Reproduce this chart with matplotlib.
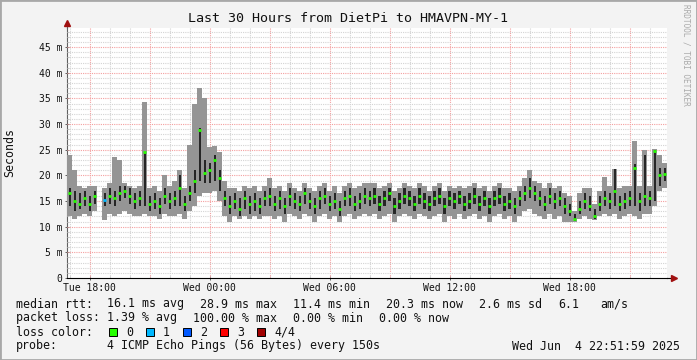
import numpy as np
import matplotlib
matplotlib.use("Agg")
import matplotlib.pyplot as plt
from matplotlib.patches import Rectangle

# ---- data (ms), one value per 15-minute bin, 120 bins over 30 hours ----
nan = np.nan
med = [16.5, 15.0, 14.5, 15.5, 14.5, 16.0, nan, 15.3, 16.0, 15.5, 16.5, 17.0, 16.0, 15.0, 15.5, 24.5, 14.5, 15.0, 14.0, 16.0,
       15.0, 15.5, 17.5, 14.5, 16.5, 19.0, 28.9, 20.5, 21.0, 23.0, 19.5, 15.5, 14.0, 15.0, 13.5, 15.5, 14.5, 15.0, 14.0, 15.5,
       16.0, 14.5, 15.5, 14.0, 16.0, 15.0, 14.5, 16.5, 15.0, 14.0, 15.5, 16.0, 14.5, 15.0, 13.5, 15.5, 16.0, 14.5, 15.0, 16.0,
       15.5, 16.0, 14.5, 15.5, 16.5, 14.0, 15.0, 16.0, 15.5, 14.5, 16.0, 15.0, 14.5, 15.5, 16.0, 14.0, 15.5, 15.0, 16.0, 14.5,
       15.0, 16.0, 14.5, 15.5, 14.0, 15.5, 16.0, 14.5, 15.0, 14.0, 15.5, 16.5, 17.5, 16.5, 15.5, 14.5, 16.0, 15.0, 15.5, 14.0,
       13.0, 11.5, 13.5, 15.0, 14.0, 12.0, 14.5, 15.5, 15.0, 17.0, 14.5, 15.0, 15.5, 21.5, 15.0, 16.0, 15.5, 24.8, 20.0, 20.3]
lo = [12.0, 11.5, 12.0, 12.5, 12.0, 13.0, nan, 11.3, 12.5, 12.0, 12.5, 13.0, 12.5, 12.0, 12.0, 12.5, 12.0, 12.0, 11.5, 12.5,
      12.0, 12.0, 12.5, 11.5, 13.0, 14.0, 16.0, 16.5, 16.5, 17.0, 15.0, 12.0, 11.0, 12.0, 11.5, 12.0, 11.5, 12.0, 11.5, 12.0,
      12.0, 11.5, 12.0, 11.0, 12.5, 12.0, 11.5, 12.5, 12.0, 11.0, 12.0, 12.5, 11.5, 12.0, 11.0, 12.0, 12.5, 11.5, 12.0, 12.5,
      12.0, 12.5, 11.5, 12.0, 12.5, 11.0, 12.0, 12.5, 12.0, 11.5, 12.5, 12.0, 11.5, 12.0, 12.5, 11.0, 12.0, 11.5, 12.5, 11.5,
      12.0, 12.5, 11.5, 12.0, 11.0, 12.0, 12.5, 11.5, 12.0, 11.0, 12.0, 13.0, 13.5, 12.5, 12.0, 11.5, 12.5, 11.5, 12.0, 11.0,
      11.0, 11.0, 11.5, 12.0, 11.5, 11.3, 12.0, 12.5, 12.0, 12.5, 11.5, 12.0, 12.5, 12.0, 11.5, 12.5, 12.5, 14.0, 17.0, 17.5]
hi = [24.0, 21.0, 18.0, 17.5, 18.0, 18.0, nan, 17.5, 18.5, 23.5, 23.0, 18.5, 18.0, 17.5, 18.0, 34.4, 17.5, 18.0, 17.0, 20.0,
      18.0, 19.0, 21.0, 17.5, 26.0, 34.0, 37.0, 35.0, 25.5, 25.8, 24.5, 19.0, 17.5, 17.5, 17.0, 18.0, 17.5, 18.0, 17.0, 18.0,
      19.5, 17.5, 18.0, 17.0, 18.5, 17.5, 17.0, 18.5, 17.5, 17.0, 18.0, 18.5, 17.0, 18.0, 16.5, 18.0, 18.5, 17.5, 18.0, 18.5,
      18.5, 18.5, 17.5, 18.0, 18.5, 17.0, 17.5, 18.5, 18.0, 17.5, 18.5, 18.0, 17.0, 18.0, 18.5, 17.0, 18.0, 17.5, 18.0, 17.5,
      18.0, 18.5, 17.5, 18.0, 17.0, 18.0, 18.5, 17.5, 17.5, 17.0, 18.0, 19.5, 21.0, 19.0, 18.5, 17.5, 18.5, 17.5, 18.0, 16.5,
      16.0, 13.0, 16.5, 17.5, 17.5, 14.5, 17.0, 19.7, 18.0, 21.2, 17.5, 18.0, 18.0, 26.8, 18.0, 25.0, 18.0, 25.2, 24.0, 22.5]
dlo = [14.0, 13.0, 13.5, 14.0, 13.0, 14.5, nan, 14.0, 14.5, 14.0, 15.0, 15.5, 14.5, 13.5, 14.0, 14.0, 13.0, 13.5, 12.5, 14.5,
       13.5, 14.0, 14.0, 13.0, 15.0, 16.5, 19.0, 18.5, 18.5, 19.0, 17.0, 14.0, 12.5, 13.5, 12.0, 13.5, 12.5, 13.0, 12.5, 14.0,
       14.0, 13.0, 13.5, 12.5, 14.0, 13.5, 13.0, 14.5, 13.5, 12.5, 13.5, 14.5, 13.0, 13.5, 12.0, 14.0, 14.0, 13.0, 13.5, 14.5,
       14.0, 14.5, 13.0, 14.0, 15.0, 12.5, 13.5, 14.5, 14.0, 13.0, 14.5, 13.5, 13.0, 14.0, 14.5, 12.5, 14.0, 13.5, 14.5, 13.0,
       13.5, 14.5, 13.0, 14.0, 12.5, 14.0, 14.5, 13.0, 13.5, 12.5, 14.0, 15.0, 15.5, 15.0, 14.0, 13.0, 14.5, 13.5, 14.0, 12.5,
       12.0, 11.2, 12.5, 13.5, 13.0, 11.5, 13.0, 14.0, 13.5, 14.0, 13.0, 13.5, 14.0, 14.0, 13.0, 14.0, 14.0, 15.0, 18.0, 19.0]
dhi = [17.5, 17.0, 16.5, 17.0, 16.0, 17.0, nan, 16.5, 17.5, 17.0, 18.0, 18.0, 17.5, 16.5, 17.0, 24.6, 16.0, 16.5, 15.5, 17.5,
       16.5, 17.0, 20.0, 16.0, 18.0, 21.0, 29.3, 23.0, 22.5, 24.0, 21.0, 17.0, 16.0, 16.5, 15.5, 17.0, 16.0, 16.5, 15.5, 17.0,
       17.5, 16.0, 17.0, 15.5, 17.5, 16.5, 16.0, 17.5, 16.5, 15.5, 17.0, 17.5, 16.0, 16.5, 15.0, 17.0, 17.5, 16.0, 16.5, 17.5,
       17.0, 17.5, 16.0, 17.0, 17.5, 15.5, 16.5, 17.5, 17.0, 16.0, 17.5, 16.5, 16.0, 17.0, 17.5, 15.5, 17.0, 16.5, 17.0, 16.0,
       16.5, 17.5, 16.0, 17.0, 15.5, 17.0, 17.5, 16.0, 16.5, 15.5, 17.0, 18.0, 19.5, 18.0, 17.0, 16.0, 17.5, 16.5, 17.0, 15.5,
       14.5, 12.5, 15.0, 16.5, 16.0, 13.5, 16.0, 17.0, 16.5, 21.2, 16.0, 16.5, 17.0, 22.3, 16.5, 24.0, 17.0, 25.0, 21.5, 21.5]

# bins with packet loss (index -> lost pings)
loss_idx = [7]
loss_lvl = [1]

# time axis: hours since Tue 00:00
t_start = 16 + 52 / 60
t_end = t_start + 30
bin_h = 0.25

major_hours = [18, 24, 30, 36, 42]
major_labels = ["Tue 18:00", "Wed 00:00", "Wed 06:00", "Wed 12:00", "Wed 18:00"]
y_ticks = [0, 5, 10, 15, 20, 25, 30, 35, 40, 45]
y_labels = ["0"] + [f"{v} m" for v in y_ticks[1:]]

loss_colors = ["#26ff00", "#00b8ff", "#0059ff", "#ff0000", "#a00000"]
loss_names = ["0", "1", "2", "3", "4/4"]

legend_rows = [
    ["median rtt:", "16.1 ms avg", "28.9 ms max", "11.4 ms min", "20.3 ms now", "2.6 ms sd", "6.1", "am/s"],
    ["packet loss:", "1.39 % avg", "100.00 % max", "0.00 % min", "0.00 % now"],
]
probe_text = "4 ICMP Echo Pings (56 Bytes) every 150s"
stamp_text = "Wed Jun  4 22:51:59 2025"

# ---- figure ----
W, H = 697, 360
BG = "#f3f3f3"
MONO = "DejaVu Sans Mono"

fig = plt.figure(figsize=(W / 100, H / 100), dpi=100, facecolor=BG)


def fx(x):
    return x / W


def fy(y):
    return 1 - y / H


ax = fig.add_axes([fx(67), fy(278), 600 / W, 250 / H])
ax.set_facecolor("white")
ax.set_xlim(t_start, t_end)
ax.set_ylim(0, 250 / 5.13)

# grid (drawn manually like rrdtool: dotted, red major / gray minor)
dot = (0, (1, 1))
for h in range(int(np.ceil(t_start)), int(t_end) + 1):
    col = "#f4a0a0" if h % 3 == 0 else "#d4d4d4"
    ax.axvline(h, color=col, lw=0.8, ls=dot, zorder=3)
for v in range(1, 49):
    col = "#f4a0a0" if v % 5 == 0 else "#d4d4d4"
    ax.axhline(v, color=col, lw=0.8, ls=dot, zorder=3)

# smoke
x = t_start + bin_h * (np.arange(len(med)) + 0.5)
lo_a, hi_a = np.array(lo), np.array(hi)
dlo_a, dhi_a = np.array(dlo), np.array(dhi)
med_a = np.array(med)
ax.bar(x, hi_a - lo_a, bottom=lo_a, width=bin_h, color="#959595", lw=0, zorder=4)
ax.bar(x, dhi_a - dlo_a, bottom=dlo_a, width=bin_h * 0.4, color="#262626", lw=0, zorder=5)

# median markers coloured by loss
mcol = [loss_colors[0]] * len(med)
for i, l in zip(loss_idx, loss_lvl):
    mcol[i] = loss_colors[l]
ax.hlines(med_a, x - bin_h * 0.28, x + bin_h * 0.28, colors=mcol, lw=2.0, zorder=6)

# axes / ticks
for s in ["top", "right"]:
    ax.spines[s].set_visible(False)
ax.spines["bottom"].set_color("black")
ax.spines["left"].set_color("#606060")
ax.set_xticks(major_hours)
ax.set_xticklabels(major_labels, fontsize=7, family=MONO, color="#111111")
ax.set_xticks(range(int(np.ceil(t_start)), int(t_end) + 1), minor=True)
ax.set_yticks(y_ticks)
ax.set_yticklabels(y_labels, fontsize=7, family=MONO, color="#111111")
ax.set_yticks(range(0, 49), minor=True)
ax.tick_params(axis="both", which="major", length=3, width=0.7, color="#606060", direction="inout", pad=2)
ax.tick_params(axis="both", which="minor", length=1.5, width=0.5, color="#909090", direction="in")

# axis arrows
ax.plot([1, 1.012], [0, 0], color="black", lw=0.8, transform=ax.transAxes, clip_on=False)
ax.plot([1.012], [0], marker=">", ms=4, color="#a01010", transform=ax.transAxes, clip_on=False)
ax.plot([0, 0], [1, 1.02], color="#606060", lw=0.8, transform=ax.transAxes, clip_on=False)
ax.plot([0], [1.02], marker="^", ms=4, color="#a01010", transform=ax.transAxes, clip_on=False)

# titles
fig.text(fx(348), fy(19), "Last 30 Hours from DietPi to HMAVPN-MY-1", ha="center", va="center",
         fontsize=9.6, family=MONO, color="#111111")
fig.text(fx(10), fy(152), "Seconds", rotation=90, ha="center", va="center",
         fontsize=8.4, family=MONO, color="#111111")
fig.text(fx(686), fy(4), "RRDTOOL / TOBI OETIKER", rotation=270, ha="center", va="top",
         fontsize=5.6, family=MONO, color="#aaaaaa")

# legend rows
row_y = [304, 318, 332, 346]
row_x = [[16, 107, 200, 293, 386, 479, 558, 600],
         [16, 107, 193, 293, 379]]
for r, items in enumerate(legend_rows):
    for xx, txt in zip(row_x[r], items):
        fig.text(fx(xx), fy(row_y[r]), txt, ha="left", va="center", fontsize=8.4, family=MONO, color="#111111")

fig.text(fx(16), fy(row_y[2]), "loss color:", ha="left", va="center", fontsize=8.4, family=MONO, color="#111111")
box_x = [109, 146, 183, 220, 257]
for bx, c, name in zip(box_x, loss_colors, loss_names):
    fig.patches.append(Rectangle((fx(bx), fy(row_y[2] + 4)), 8 / W, 8 / H, transform=fig.transFigure,
                                 facecolor=c, edgecolor="black", lw=0.7))
    fig.text(fx(bx + 17), fy(row_y[2]), name, ha="left", va="center", fontsize=8.4, family=MONO, color="#111111")

fig.text(fx(16), fy(row_y[3]), "probe:", ha="left", va="center", fontsize=8.4, family=MONO, color="#111111")
fig.text(fx(107), fy(row_y[3]), probe_text, ha="left", va="center", fontsize=8.4, family=MONO, color="#111111")
fig.text(fx(680), fy(row_y[3]), stamp_text, ha="right", va="center", fontsize=8.4, family=MONO, color="#111111")

# 3d-ish frame
fig.patches.append(Rectangle((0, 0), 1, 1, transform=fig.transFigure, fill=False, edgecolor="#a8a8a8", lw=2))

fig.savefig("out.png", dpi=100, facecolor=BG)
